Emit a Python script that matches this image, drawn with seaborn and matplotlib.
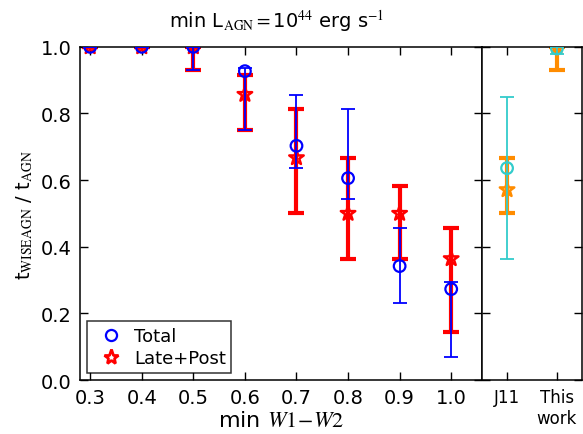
import matplotlib
matplotlib.use("Agg")
import matplotlib.pyplot as plt
import seaborn as sns
import numpy as np
import pandas as pd
from matplotlib.lines import Line2D

# ---- data ----
w12_cuts = [0.3, 0.4, 0.5, 0.6, 0.7, 0.8, 0.9, 1.0]
total = [1.0, 1.0, 1.0, 0.927, 0.703, 0.606, 0.342, 0.273]
total_lo = [1.0, 1.0, 0.931, 0.749, 0.636, 0.544, 0.231, 0.069]
total_hi = [1.0, 1.0, 1.0, 0.938, 0.855, 0.813, 0.455, 0.295]
late = [1.0, 1.0, 1.0, 0.857, 0.667, 0.5, 0.5, 0.364]
late_lo = [1.0, 1.0, 0.931, 0.75, 0.5, 0.364, 0.364, 0.143]
late_hi = [1.0, 1.0, 1.0, 0.917, 0.814, 0.667, 0.583, 0.455]

comp_labels = ["J11", "This\nwork"]
comp_total = [0.636, 0.995]
comp_total_lo = [0.362, 0.978]
comp_total_hi = [0.849, 1.0]
comp_late = [0.571, 1.0]
comp_late_lo = [0.5, 0.931]
comp_late_hi = [0.667, 1.0]

sns.set_style("ticks")
plt.rcParams["font.family"] = ["DejaVu Sans"]
plt.rcParams["mathtext.fontset"] = "stix"
plt.rcParams["mathtext.rm"] = "serif"
plt.rcParams["text.color"] = "black"
plt.rcParams["axes.labelcolor"] = "black"
plt.rcParams["xtick.color"] = "black"
plt.rcParams["ytick.color"] = "black"

fig = plt.figure(figsize=(5.83, 4.35), dpi=100)
ax = fig.add_axes([0.137, 0.124, 0.690, 0.766])
ax2 = fig.add_axes([0.827, 0.124, 0.171, 0.766])

def draw(a, x, y, lo, hi, color, lw, capsize, capthick, marker, ms, mew, z):
    y = np.asarray(y); lo = np.asarray(lo); hi = np.asarray(hi)
    a.errorbar(x, y, yerr=[y - lo, hi - y], fmt="none", ecolor=color,
               elinewidth=lw, capsize=capsize, capthick=capthick, zorder=z)
    df = pd.DataFrame({"x": x, "y": y})
    sns.scatterplot(data=df, x="x", y="y", ax=a, marker=marker, s=ms,
                    facecolor="white", edgecolor=color, linewidth=mew,
                    zorder=z + 0.5, legend=False)

# main panel
draw(ax, w12_cuts, late, late_lo, late_hi, "red", 3, 6, 3, "*", 120, 1.8, 2)
draw(ax, w12_cuts, total, total_lo, total_hi, "blue", 1.3, 5, 1.3, "o", 70, 1.6, 3)

# right panel: comparison
xpos = np.arange(len(comp_labels))
draw(ax2, xpos, comp_late, comp_late_lo, comp_late_hi, "darkorange", 3, 6, 3, "*", 120, 1.8, 2)
draw(ax2, xpos, comp_total, comp_total_lo, comp_total_hi, "#33cccc", 1.3, 5, 1.3, "o", 70, 1.6, 3)

# make marker faces transparent again (white face only used to hide line centre lightly)
for a in (ax, ax2):
    for coll in a.collections:
        coll.set_facecolor("none")

ax.set_xlim(0.28, 1.06)
ax.set_ylim(0, 1.0)
ax.set_xticks(w12_cuts)
ax.set_xticklabels([f"{v:.1f}" for v in w12_cuts])
ax.set_yticks([0, 0.2, 0.4, 0.6, 0.8, 1.0])
ax.set_yticklabels(["0.0", "0.2", "0.4", "0.6", "0.8", "1.0"])
ax.set_xlabel(r"min $W1\!-\!W2$", fontsize=16, labelpad=2)
ax.set_ylabel(r"t$_{\rm WISEAGN}$ / t$_{\rm AGN}$", fontsize=14, labelpad=4)

ax2.set_xlim(-0.5, 1.5)
ax2.set_ylim(0, 1.0)
ax2.set_xticks(xpos)
ax2.set_xticklabels(comp_labels)
ax2.set_yticks([0, 0.2, 0.4, 0.6, 0.8, 1.0])
ax2.set_yticklabels([])
ax2.set_xlabel("")
ax2.set_ylabel("")

for a, ls in ((ax, 14), (ax2, 12)):
    a.tick_params(direction="in", top=True, right=True, length=6, width=1,
                  labelsize=ls, colors="black", pad=6)
    for s in a.spines.values():
        s.set_linewidth(1.1)
        s.set_color("black")

fig.text(0.475, 0.952,
         r"min L$_{\rm AGN}$$=$10$^{44}$ erg s$^{-1}$", ha="center",
         va="center", fontsize=14)

handles = [
    Line2D([], [], ls="none", marker="o", mfc="none", mec="blue", mew=1.6, ms=8),
    Line2D([], [], ls="none", marker="*", mfc="none", mec="red", mew=2.0, ms=11),
]
leg = ax.legend(handles, ["Total", "Late+Post"], loc="lower left",
                fontsize=13, frameon=True, fancybox=False, numpoints=1,
                borderpad=0.3, handletextpad=0.3, labelspacing=0.25,
                borderaxespad=0.4)
leg.get_frame().set_edgecolor("black")
leg.get_frame().set_linewidth(1.1)

fig.savefig("out.png", dpi=100)
